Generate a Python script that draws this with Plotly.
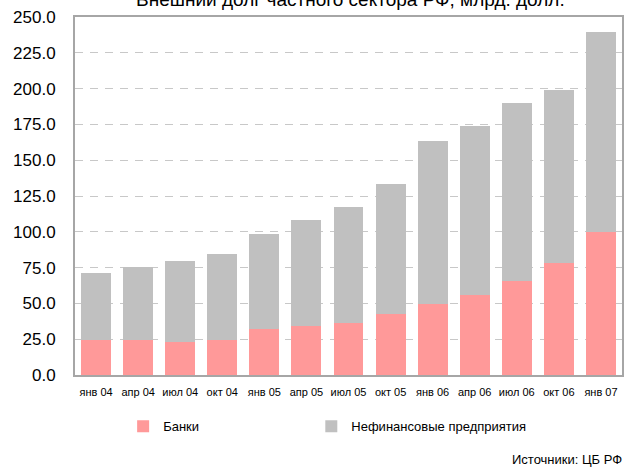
import plotly.graph_objects as go

categories = ["янв 04", "апр 04", "июл 04", "окт 04", "янв 05", "апр 05", "июл 05",
              "окт 05", "янв 06", "апр 06", "июл 06", "окт 06", "янв 07"]
banks = [24.5, 24.5, 23.3, 24.4, 32.1, 34.2, 36.3, 42.8, 49.3, 55.8, 65.6, 78.0, 99.6]
totals = [71.1, 75.2, 79.8, 84.2, 98.4, 108.2, 117.0, 133.3, 163.1, 173.8, 190.1, 198.9, 239.2]
nonfin = [round(t - b, 1) for t, b in zip(totals, banks)]

title_text = "Внешний долг частного сектора РФ, млрд. долл."
source_text = "Источники: ЦБ РФ"
font_family = "Liberation Sans, Arial, sans-serif"

fig = go.Figure()
fig.add_trace(go.Bar(x=categories, y=banks, name="Банки", legend="legend",
                     marker=dict(color="#ff9999", line=dict(width=0))))
fig.add_trace(go.Bar(x=categories, y=nonfin, name="Нефинансовые предприятия",
                     legend="legend2",
                     marker=dict(color="#c0c0c0", line=dict(width=0))))

leg_common = dict(orientation="h", xanchor="left", y=-0.143, yanchor="middle",
                  font=dict(size=13), bgcolor="rgba(0,0,0,0)")

fig.update_layout(
    width=626, height=468,
    margin=dict(l=75, r=2, t=17, b=93),
    barmode="stack", bargap=0.29,
    paper_bgcolor="white", plot_bgcolor="white",
    font=dict(family=font_family, color="#000000"),
    showlegend=True,
    legend=dict(x=0.088, **leg_common),
    legend2=dict(x=0.432, **leg_common),
    xaxis=dict(type="category", tickfont=dict(size=11), showgrid=False,
               showline=True, mirror=True, linecolor="#a6a6a6", linewidth=2,
               ticks="", ticklabelstandoff=6),
    yaxis=dict(range=[0, 250], dtick=25, tickformat=".1f", tickfont=dict(size=17),
               showgrid=True, gridcolor="#c8c8c8", gridwidth=1, griddash="8px,7px",
               showline=True, mirror=True, linecolor="#a6a6a6", linewidth=2,
               ticks="", ticklabelstandoff=14, zeroline=False),
    annotations=[
        dict(text=title_text, xref="paper", yref="paper", x=0.503, y=1.014,
             xanchor="center", yanchor="bottom", showarrow=False,
             font=dict(size=19)),
        dict(text=source_text, xref="paper", yref="paper", x=1.003, y=-0.235,
             xanchor="right", yanchor="middle", showarrow=False,
             font=dict(size=13)),
    ],
)

fig.write_html("out.html", config={"displayModeBar": False},
               post_script="document.body.style.margin='0';document.body.style.overflow='hidden';")
